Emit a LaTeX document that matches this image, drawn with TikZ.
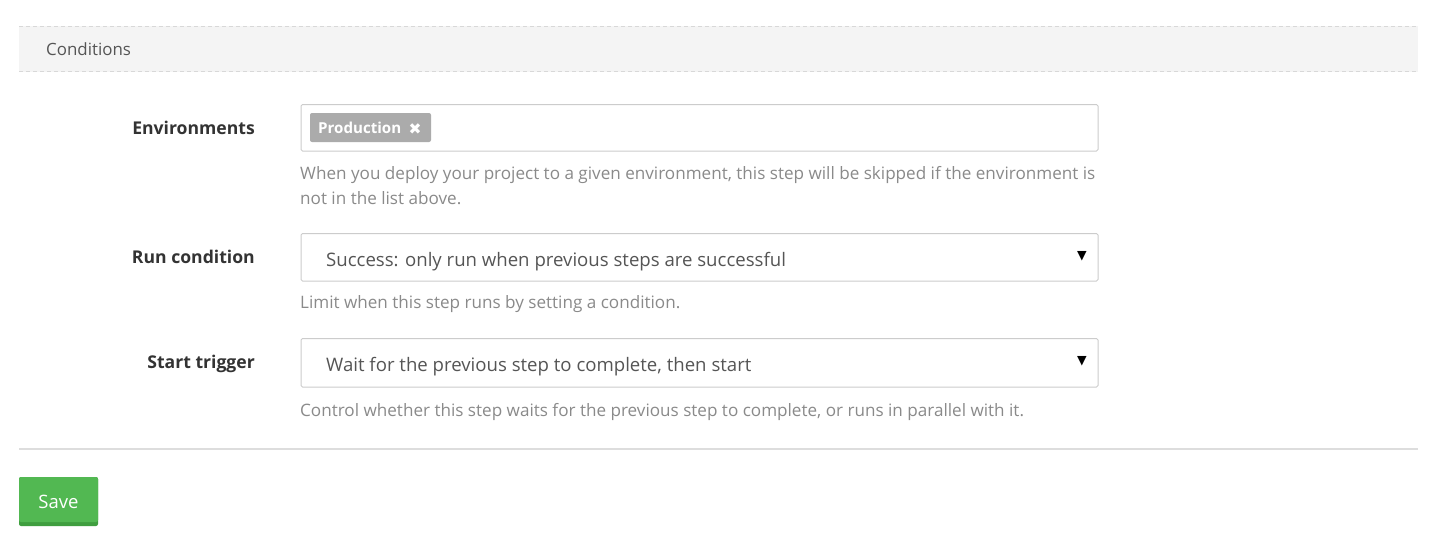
\documentclass[tikz,border=0pt]{standalone}
\usepackage{fontspec}
\setmainfont{Open Sans}
\newfontfamily\symfont{DejaVu Sans}
\definecolor{bandbg}{HTML}{F4F4F4}
\definecolor{bandline}{HTML}{D8D8D8}
\definecolor{boxline}{HTML}{CCCCCC}
\definecolor{labelcol}{HTML}{333333}
\definecolor{helpcol}{HTML}{8A8A8A}
\definecolor{selcol}{HTML}{555555}
\definecolor{tagbg}{HTML}{ABABAB}
\definecolor{savebg}{HTML}{52B852}
\definecolor{savedark}{HTML}{3F9E3F}
\definecolor{rulecol}{HTML}{DDDDDD}
\begin{document}
\begin{tikzpicture}[x=1pt,y=-1pt,
  fieldlabel/.style={anchor=base east,font=\fontsize{17.6}{20}\selectfont\bfseries,text=labelcol,inner sep=0pt},
  helptext/.style={anchor=base west,font=\fontsize{17.1}{20}\selectfont,text=helpcol,inner sep=0pt},
  seltext/.style={anchor=base west,font=\fontsize{18.6}{22}\selectfont,text=selcol,inner sep=0pt},
  inbox/.style={draw=boxline,line width=1pt,fill=white,rounded corners=1.5pt},
  arrowmark/.style={font=\symfont\fontsize{12.5}{14}\selectfont,text=black,inner sep=0pt}
]
\useasboundingbox (0,0) rectangle (1430,543);
\fill[white] (0,0) rectangle (1430,543);
% header band
\fill[bandbg] (19,26) rectangle (1418,72);
\draw[bandline,line width=1pt,dash pattern=on 4pt off 3pt] (19,26.5) -- (1418,26.5);
\draw[bandline,line width=1pt,dash pattern=on 4pt off 3pt] (19,72) -- (1418,72);
\node[anchor=base west,inner sep=0pt,font=\fontsize{16.9}{20}\selectfont,text=selcol] (cond) at (46,55.5) {Conditions};
% Environments
\node[fieldlabel] (envl) at (255,134) {Environments};
\draw[inbox] (301,104.5) rectangle (1098,151);
\fill[tagbg,rounded corners=2pt] (310,113) rectangle (431,142);
\node[anchor=base west,inner sep=0pt,font=\fontsize{15.1}{16}\selectfont\bfseries,text=white] (tag) at (318,133) {Production};
\node[inner sep=0pt,font=\symfont\fontsize{15.5}{16}\selectfont\bfseries,text=white] (tagx) at (415,129) {✖};
\node[helptext] (envh1) at (300,179.3) {When you deploy your project to a given environment, this step will be skipped if the environment is};
\node[helptext] (envh2) at (300,204.3) {not in the list above.};
% Run condition
\node[fieldlabel] (runl) at (255,263) {Run condition};
\draw[inbox] (301,233.5) rectangle (1098,281);
\node[seltext] (runs) at (326,266.5) {Success: only run when previous steps are successful};
\node[arrowmark] (runa) at (1082,256) {▼};
\node[helptext] (runh) at (300,308) {Limit when this step runs by setting a condition.};
% Start trigger
\node[fieldlabel] (trgl) at (255,368) {Start trigger};
\draw[inbox] (301,338.5) rectangle (1098,387);
\node[seltext] (trgs) at (326,371.5) {Wait for the previous step to complete, then start};
\node[arrowmark] (trga) at (1082,361.5) {▼};
\node[helptext] (trgh) at (300,416) {Control whether this step waits for the previous step to complete, or runs in parallel with it.};
% rule
\draw[rulecol,line width=1.5pt] (19,449) -- (1418,449);
% Save button
\fill[savedark,rounded corners=2pt] (19,477) rectangle (98,526);
\fill[savebg,rounded corners=2pt] (19,477) rectangle (98,522);
\node[anchor=base,inner sep=0pt,font=\fontsize{18.5}{20}\selectfont,text=white] (save) at (58.5,508) {Save};
\end{tikzpicture}
\end{document}
